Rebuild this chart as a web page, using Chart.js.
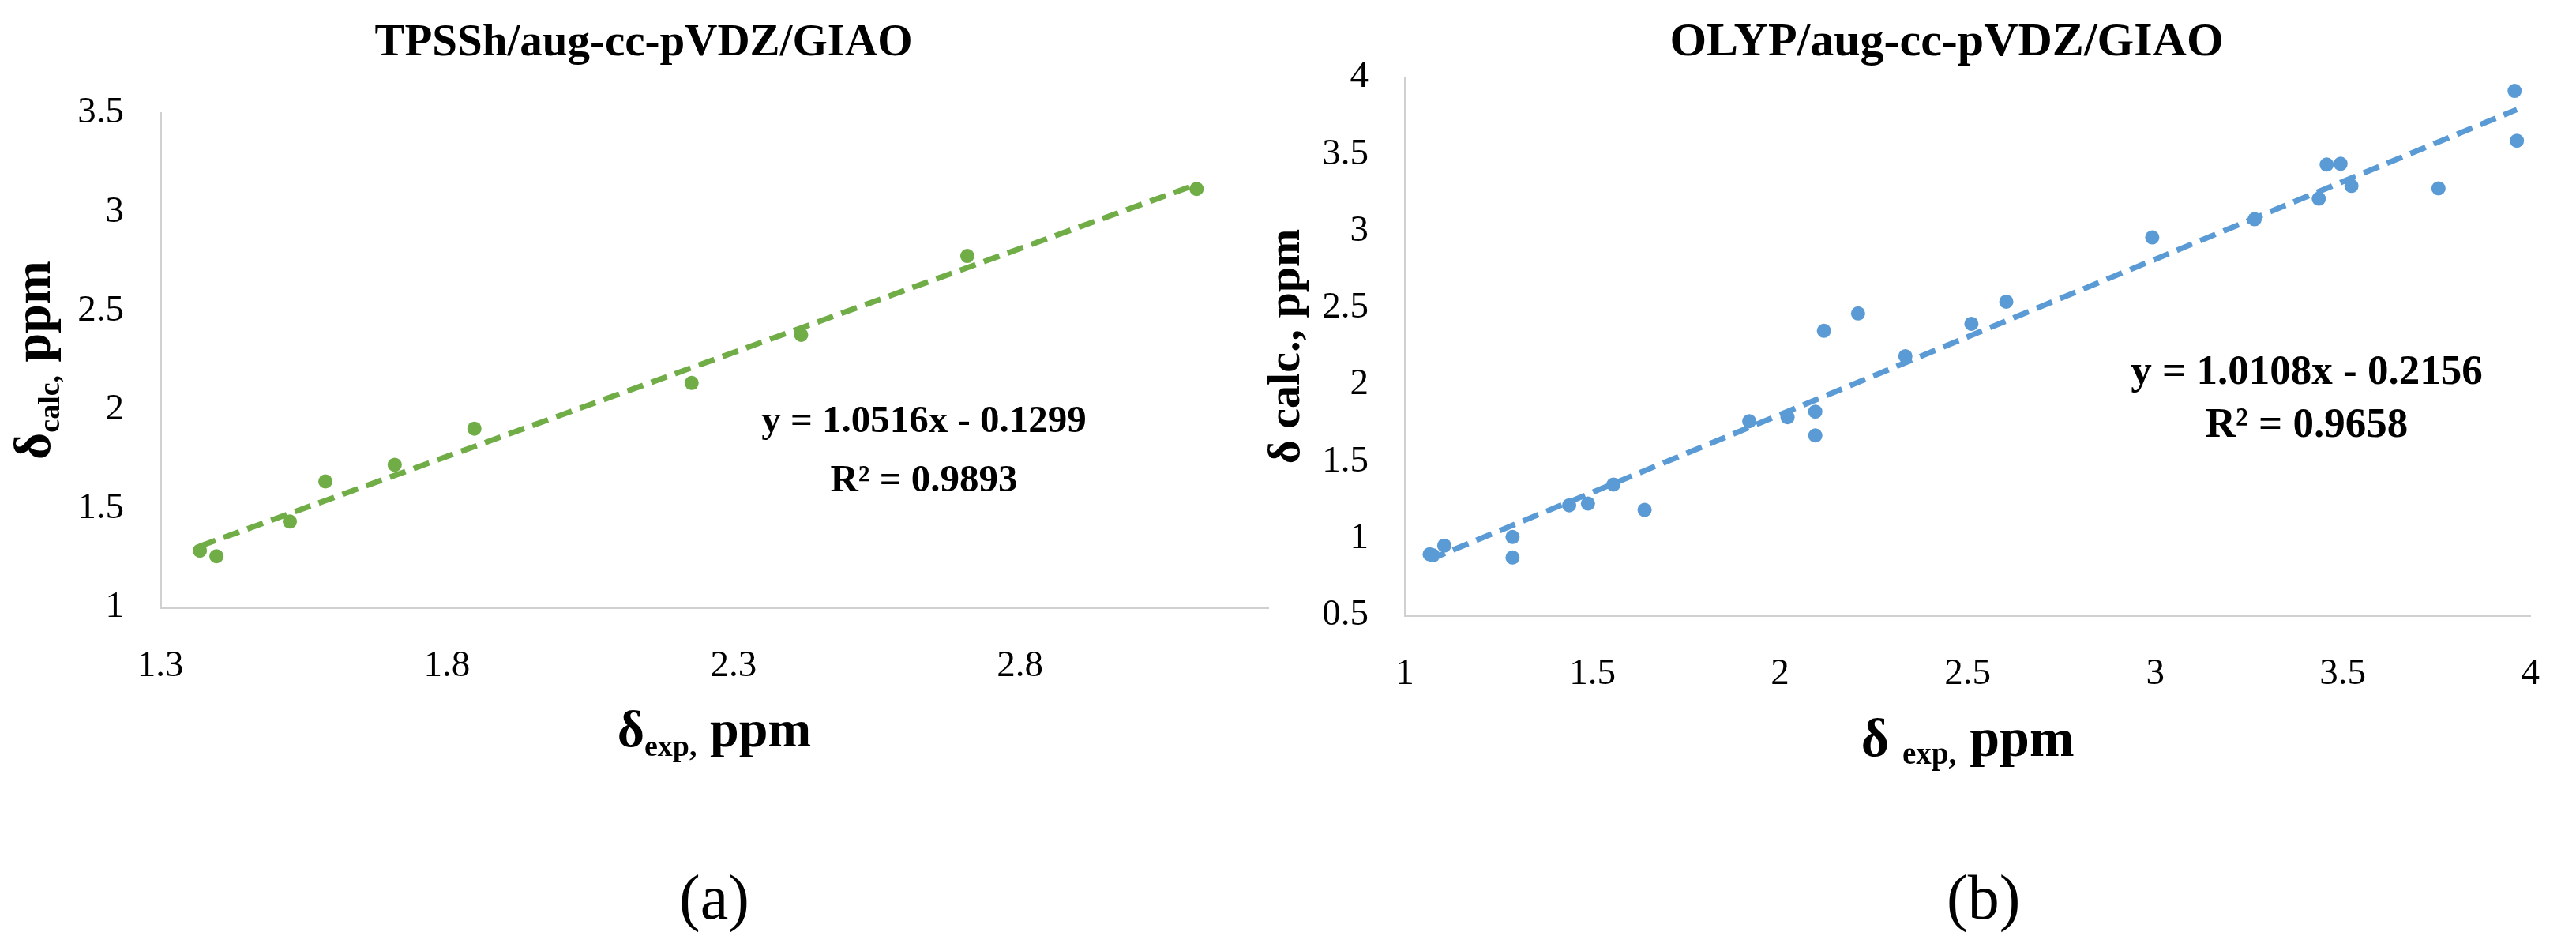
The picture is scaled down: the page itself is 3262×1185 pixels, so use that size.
<!DOCTYPE html>
<html>
<head>
<meta charset="utf-8">
<script src="https://cdn.jsdelivr.net/npm/chart.js@4.4.1/dist/chart.umd.min.js"></script>
<style>
    html, body { margin: 0; padding: 0; background: #fff; }
    #wrap { position: relative; width: 3262px; height: 1185px; }
    canvas { position: absolute; top: 0; }
    #chart-a { left: 0; }
    #chart-b { left: 1580px; }
</style>
</head>
<body>
<div id="wrap">
    <canvas id="chart-a" width="1630" height="1185"></canvas>
    <canvas id="chart-b" width="1682" height="1185"></canvas>
</div>
<script>
// (a) TPSSh/aug-cc-pVDZ/GIAO
const tpsshExp  = [1.369, 1.398, 1.526, 1.588, 1.709, 1.848, 2.227, 2.418, 2.708, 3.108];
const tpsshCalc = [1.287, 1.259, 1.434, 1.637, 1.721, 1.904, 2.135, 2.378, 2.777, 3.116];
const tpsshFit = [1.0516, -0.1299];
const tpsshXTicks = [1.3, 1.8, 2.3, 2.8];
const tpsshYTicks = [1, 1.5, 2, 2.5, 3, 3.5];

// (b) OLYP/aug-cc-pVDZ/GIAO
const olypExp  = [1.066, 1.075, 1.105, 1.287, 1.287, 1.438, 1.488, 1.556, 1.639, 1.918, 2.020, 2.094, 2.094, 2.117,
                  2.208, 2.334, 2.510, 2.603, 2.992, 3.265, 3.436, 3.457, 3.494, 3.523, 3.755, 3.958, 3.964];
const olypCalc = [0.897, 0.890, 0.954, 1.010, 0.876, 1.216, 1.227, 1.351, 1.186, 1.763, 1.789, 1.825, 1.670, 2.351,
                  2.464, 2.186, 2.397, 2.541, 2.959, 3.077, 3.211, 3.433, 3.438, 3.294, 3.278, 3.912, 3.588];
const olypFit = [1.0108, -0.2156];
const olypXTicks = [1, 1.5, 2, 2.5, 3, 3.5, 4];
const olypYTicks = [0.5, 1, 1.5, 2, 2.5, 3, 3.5, 4];

const SERIF = '"Liberation Serif", "Times New Roman", serif';
const GREEN = '#70AD47';
const BLUE = '#5B9BD5';
const AXIS_GREY = '#d0d0d0';

// draws a line of text made of parts: [text, size, weight, dy]
function drawRich(ctx, parts, x, y, rotate) {
    ctx.save();
    ctx.translate(x, y);
    if (rotate) ctx.rotate(-Math.PI / 2);
    ctx.textAlign = 'left';
    ctx.textBaseline = 'alphabetic';
    ctx.fillStyle = '#000';
    let total = 0;
    parts.forEach(p => {
        ctx.font = `${p[2]} ${p[1]}px ${SERIF}`;
        total += ctx.measureText(p[0]).width;
    });
    let cx = -total / 2;
    parts.forEach(p => {
        ctx.font = `${p[2]} ${p[1]}px ${SERIF}`;
        ctx.fillText(p[0], cx, p[3]);
        cx += ctx.measureText(p[0]).width;
    });
    ctx.restore();
}

const textPlugin = {
    id: 'texts',
    afterDraw(chart, args, opts) {
        const ctx = chart.ctx;
        const area = chart.chartArea;
        opts.items.forEach(it => {
            const x = it.x === 'area' ? (area.left + area.right) / 2 + (it.dx || 0) : it.x;
            const y = it.y === 'area' ? (area.top + area.bottom) / 2 : it.y;
            drawRich(ctx, it.parts, x, y, it.rotate);
        });
    }
};

function makeChart(id, cfg) {
    const fitX = [Math.min(...cfg.xs), Math.max(...cfg.xs)];
    const points = cfg.xs.map((x, i) => ({ x: x, y: cfg.ys[i] }));
    const trend = fitX.map(x => ({ x: x, y: cfg.fit[0] * x + cfg.fit[1] }));

    const axisBase = {
        type: 'linear',
        grid: { display: false, drawTicks: false },
        border: { display: true, color: AXIS_GREY, width: 3 },
        ticks: {
            padding: 46,
            color: '#000',
            autoSkip: false,
            font: { family: SERIF, size: 47 },
            callback: v => String(v)
        }
    };

    return new Chart(document.getElementById(id), {
        type: 'scatter',
        data: {
            datasets: [{
                data: trend,
                showLine: true,
                borderColor: cfg.color,
                borderWidth: 7,
                borderDash: [21, 11],
                pointRadius: 0,
                order: 0
            }, {
                data: points,
                backgroundColor: cfg.color,
                borderWidth: 0,
                pointRadius: 9,
                order: 1
            }]
        },
        options: {
            responsive: false,
            animation: false,
            devicePixelRatio: 1,
            layout: { padding: cfg.padding },
            scales: {
                x: Object.assign({}, axisBase, {
                    min: cfg.xRange[0],
                    max: cfg.xRange[1],
                    afterBuildTicks: s => { s.ticks = cfg.xTicks.map(v => ({ value: v })); },
                    afterFit: s => { s.height = 120; }
                }),
                y: Object.assign({}, axisBase, {
                    min: cfg.yRange[0],
                    max: cfg.yRange[1],
                    afterBuildTicks: s => { s.ticks = cfg.yTicks.map(v => ({ value: v })); },
                    afterFit: s => { s.width = cfg.yWidth; }
                })
            },
            plugins: {
                legend: { display: false },
                tooltip: { enabled: false },
                title: { display: false },
                texts: { items: cfg.texts }
            }
        },
        plugins: [textPlugin]
    });
}

makeChart('chart-a', {
    xs: tpsshExp, ys: tpsshCalc, fit: tpsshFit, color: GREEN,
    xTicks: tpsshXTicks, yTicks: tpsshYTicks,
    xRange: [1.3, 3.233], yRange: [1, 3.5],
    yWidth: 203,
    padding: { left: 0, top: 143, right: 24, bottom: 296 },
    texts: [
        { x: 815, y: 70, parts: [['TPSSh/aug-cc-pVDZ/GIAO', 57, 'bold', 0]] },
        { x: 63, y: 'area', rotate: true, parts: [['δ', 66, 'bold', 0], ['calc,', 38, 'bold', 12], [' ppm', 66, 'bold', 0]] },
        { x: 'area', y: 945, parts: [['δ', 66, 'bold', 0], ['exp,', 38, 'bold', 12], [' ppm', 66, 'bold', 0]] },
        { x: 1170, y: 547, parts: [['y = 1.0516x - 0.1299', 49, 'bold', 0]] },
        { x: 1170, y: 622, parts: [['R² = 0.9893', 49, 'bold', 0]] },
        { x: 'area', y: 1163, parts: [['(a)', 80, 'normal', 0]] }
    ]
});

makeChart('chart-b', {
    xs: olypExp, ys: olypCalc, fit: olypFit, color: BLUE,
    xTicks: olypXTicks, yTicks: olypYTicks,
    xRange: [1, 4], yRange: [0.5, 4],
    yWidth: 199,
    padding: { left: 0, top: 98, right: 32, bottom: 286 },
    texts: [
        { x: 885, y: 70, parts: [['OLYP/aug-cc-pVDZ/GIAO', 60, 'bold', 0]] },
        { x: 65, y: 'area', rotate: true, parts: [['δ calc., ppm', 58, 'bold', 0]] },
        { x: 'area', y: 957, parts: [['δ ', 68, 'bold', 0], ['exp,', 39, 'bold', 10], [' ppm', 68, 'bold', 0]] },
        { x: 1341, y: 486, parts: [['y = 1.0108x - 0.2156', 53, 'bold', 0]] },
        { x: 1341, y: 553, parts: [['R² = 0.9658', 53, 'bold', 0]] },
        { x: 'area', dx: 20, y: 1163, parts: [['(b)', 80, 'normal', 0]] }
    ]
});
</script>
</body>
</html>
